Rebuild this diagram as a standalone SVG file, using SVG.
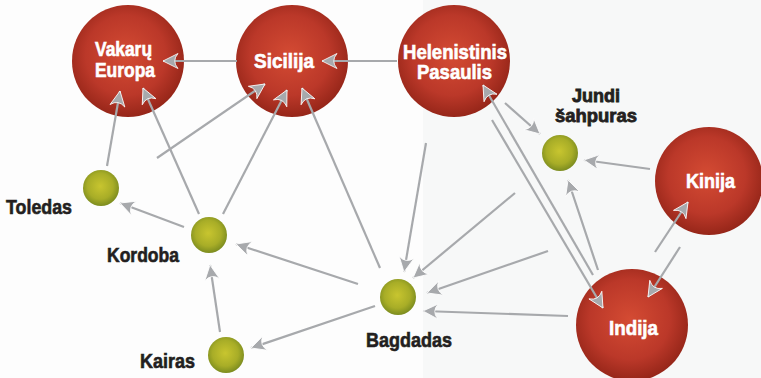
<svg xmlns="http://www.w3.org/2000/svg" width="761" height="378" viewBox="0 0 761 378">
<defs>
<radialGradient id="red" cx="0.48" cy="0.45" r="0.55">
<stop offset="0" stop-color="#d44b33"/>
<stop offset="0.65" stop-color="#bb3829"/>
<stop offset="1" stop-color="#962619"/>
</radialGradient>
<radialGradient id="green" cx="0.48" cy="0.45" r="0.55">
<stop offset="0" stop-color="#c8c52f"/>
<stop offset="0.65" stop-color="#a8ad27"/>
<stop offset="1" stop-color="#7c8c1f"/>
</radialGradient>
<marker id="ah" viewBox="-17 -9 19 18" refX="0" refY="0" markerWidth="19" markerHeight="18" markerUnits="userSpaceOnUse" orient="auto">
<path d="M0,0 L-15,-7.5 Q-8.5,0 -15,7.5 Z" fill="#a7a9ac" stroke="#ffffff" stroke-width="0.8" stroke-linejoin="round"/>
</marker>
<style>
.big{fill:url(#red);}
.small{fill:url(#green);}
.wt{font-family:"Liberation Sans Narrow","Liberation Sans",Arial,sans-serif;font-weight:bold;font-size:20px;fill:#ffffff;stroke:#ffffff;stroke-width:0.6;}
.dt{font-family:"Liberation Sans Narrow","Liberation Sans",Arial,sans-serif;font-weight:bold;font-size:20px;fill:#231f20;stroke:#231f20;stroke-width:0.6;}
.js{font-size:18px;stroke-width:0.8;}
.c line{stroke:#a7a9ac;stroke-width:2.2;marker-end:url(#ah);}
</style>
</defs>
<rect x="0" y="0" width="761" height="378" fill="#fdfdfd"/>
<rect x="423" y="0" width="338" height="378" fill="#f7f8f8"/>

<g id="vakaru-europa">
<circle class="big" cx="128" cy="61" r="56"/>
</g>
<g id="sicilija">
<circle class="big" cx="292" cy="61" r="56"/>
</g>
<g id="helenistinis-pasaulis">
<circle class="big" cx="454" cy="61" r="56"/>
</g>
<g id="kinija">
<circle class="big" cx="709" cy="181" r="54"/>
</g>
<g id="indija">
<circle class="big" cx="632" cy="325" r="56"/>
</g>
<g id="toledas">
<circle class="small" cx="101" cy="188" r="18"/>
</g>
<g id="kordoba">
<circle class="small" cx="209" cy="235" r="18"/>
</g>
<g id="kairas">
<circle class="small" cx="226" cy="355" r="18"/>
</g>
<g id="bagdadas">
<circle class="small" cx="398" cy="297" r="18"/>
</g>
<g id="jundi-sahpuras">
<circle class="small" cx="560" cy="153" r="18"/>
</g>

<g id="connectors" class="c">
<line x1="237" y1="61" x2="163" y2="61"/>
<line x1="397" y1="61" x2="322" y2="61"/>
<line x1="107" y1="166" x2="120" y2="91"/>
<line x1="199" y1="214" x2="143" y2="88"/>
<line x1="157" y1="158" x2="265" y2="84"/>
<line x1="223" y1="214" x2="287" y2="90"/>
<line x1="380" y1="268" x2="302" y2="88"/>
<line x1="426" y1="143" x2="404" y2="272"/>
<line x1="515" y1="193" x2="413" y2="278"/>
<line x1="548" y1="251" x2="427" y2="293"/>
<line x1="568" y1="316" x2="423" y2="311"/>
<line x1="358" y1="284" x2="236" y2="244"/>
<line x1="375" y1="306" x2="251" y2="348"/>
<line x1="220" y1="332" x2="210" y2="265"/>
<line x1="184" y1="227" x2="120" y2="203"/>
<line x1="593" y1="275" x2="483" y2="85"/>
<line x1="492" y1="120" x2="603" y2="308"/>
<line x1="505" y1="103" x2="540" y2="134"/>
<line x1="650" y1="169" x2="584" y2="160"/>
<line x1="598" y1="270" x2="568" y2="180"/>
<line x1="655" y1="252" x2="688" y2="202"/>
<line x1="680" y1="247" x2="648" y2="297"/>
</g>

<g id="labels">
<text class="wt"><tspan x="95" y="56" textLength="57" lengthAdjust="spacingAndGlyphs">Vakarų</tspan><tspan x="95" y="77" textLength="60" lengthAdjust="spacingAndGlyphs">Europa</tspan></text>
<text class="wt" x="254" y="68" textLength="60" lengthAdjust="spacingAndGlyphs">Sicilija</text>
<text class="wt"><tspan x="403" y="59" textLength="104" lengthAdjust="spacingAndGlyphs">Helenistinis</tspan><tspan x="417" y="79" textLength="75" lengthAdjust="spacingAndGlyphs">Pasaulis</tspan></text>
<text class="wt" x="686" y="188" textLength="49" lengthAdjust="spacingAndGlyphs">Kinija</text>
<text class="wt" x="609" y="335" textLength="49" lengthAdjust="spacingAndGlyphs">Indija</text>
<text class="dt" x="6" y="214" textLength="66" lengthAdjust="spacingAndGlyphs">Toledas</text>
<text class="dt" x="107" y="262" textLength="72" lengthAdjust="spacingAndGlyphs">Kordoba</text>
<text class="dt" x="140" y="368" textLength="55" lengthAdjust="spacingAndGlyphs">Kairas</text>
<text class="dt" x="366" y="347" textLength="86" lengthAdjust="spacingAndGlyphs">Bagdadas</text>
<text class="dt js" x="572" y="102" textLength="48" lengthAdjust="spacingAndGlyphs">Jundi</text>
<text class="dt js" x="555" y="122" textLength="82" lengthAdjust="spacingAndGlyphs">šahpuras</text>
</g>
</svg>
